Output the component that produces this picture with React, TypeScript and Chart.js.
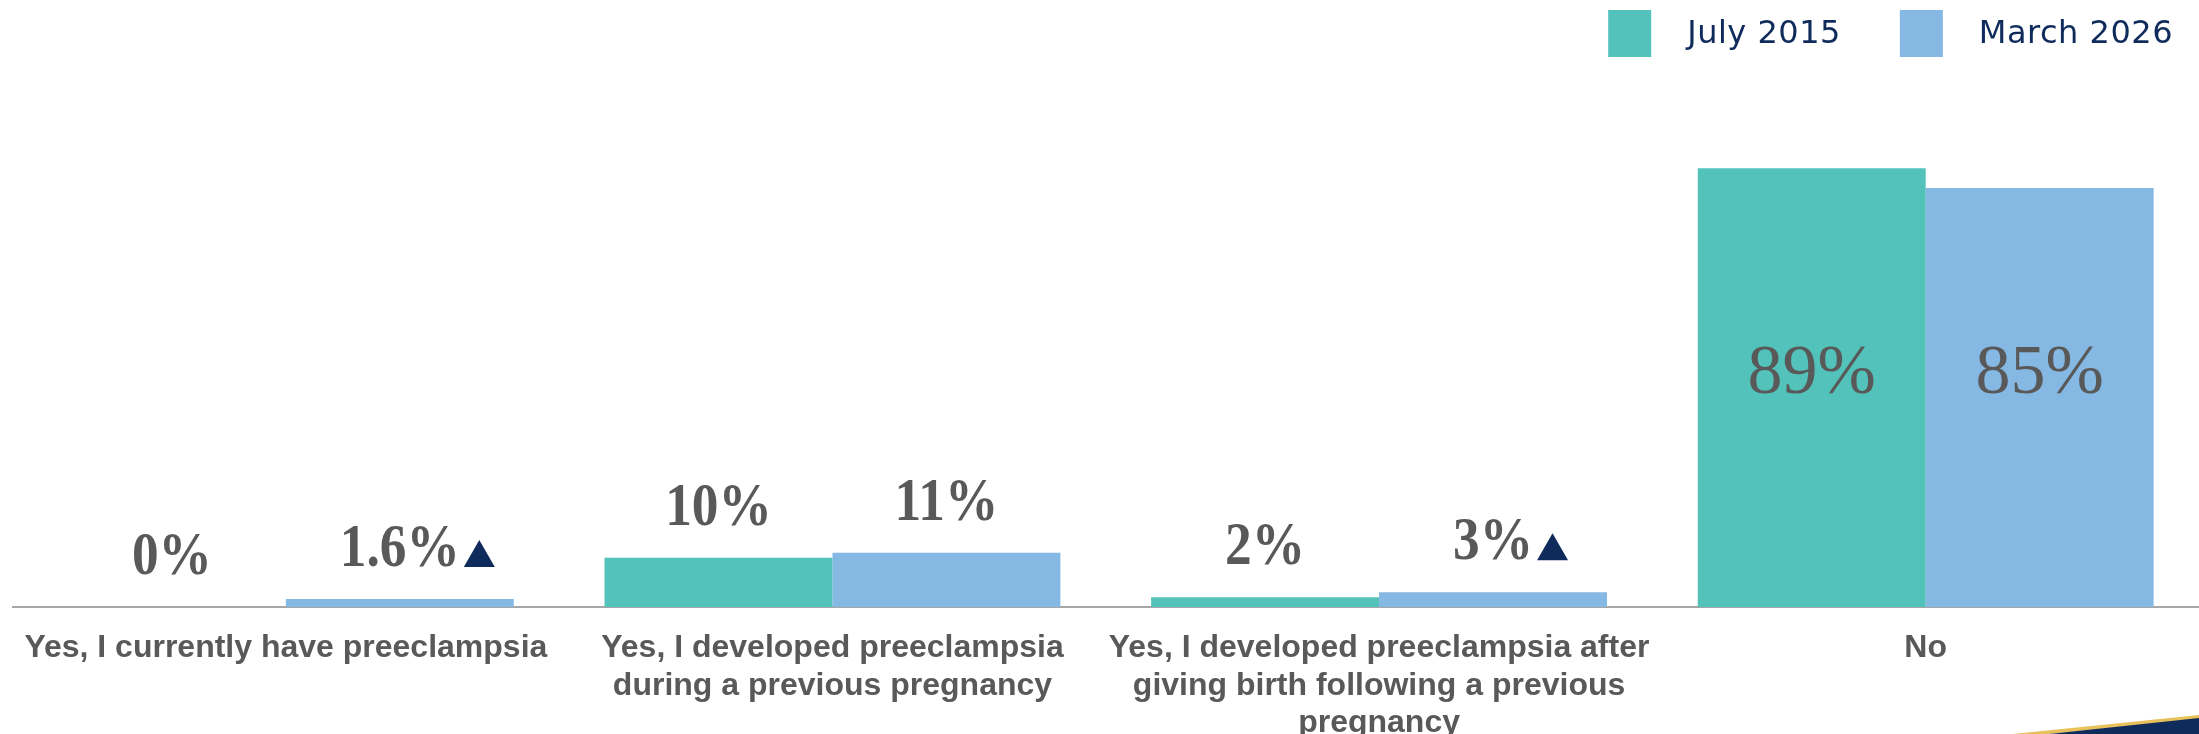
import React, { useEffect, useRef } from "react";
import { Chart, registerables } from "chart.js";

Chart.register(...registerables);

const categories: string[][] = [
  ["Yes, I currently have preeclampsia"],
  ["Yes, I developed preeclampsia", "during a previous pregnancy"],
  ["Yes, I developed preeclampsia after", "giving birth following a previous", "pregnancy"],
  ["No"],
];
const seriesNames = ["July 2015", "March 2026"];
const july2015 = [0, 10, 2, 89];
const march2026 = [1.6, 11, 3, 85];
const july2015Up = [false, false, false, false];
const march2026Up = [true, false, true, false];

const TEAL = "#52C2BA";
const BLUE = "#85B9E3";
const NAVY = "#0E2B5C";
const GREY = "#595959";

const fmt = (v: number) => (Number.isInteger(v) ? `${v}%` : `${v.toFixed(1)}%`);

const labelPlugin = {
  id: "valueLabels",
  afterDatasetsDraw(chart: any) {
    const ctx = chart.ctx;
    const area = chart.chartArea;
    const flags = [july2015Up, march2026Up];
    chart.data.datasets.forEach((ds: any, i: number) => {
      const meta = chart.getDatasetMeta(i);
      meta.data.forEach((bar: any, j: number) => {
        const v = ds.data[j] as number;
        const text = fmt(v);
        ctx.save();
        ctx.fillStyle = GREY;
        if (v >= 50) {
          ctx.font = "70px 'Liberation Serif', 'Times New Roman', serif";
          ctx.textAlign = "center";
          ctx.textBaseline = "middle";
          ctx.fillText(text, bar.x, (area.top + bar.base) / 2 + 14);
        } else {
          const sx = 0.86;
          ctx.font = "bold 62px 'Liberation Serif', 'Times New Roman', serif";
          ctx.textAlign = "center";
          ctx.textBaseline = "alphabetic";
          const baseY = bar.y - 33;
          const w = ctx.measureText(text).width * sx;
          ctx.save();
          ctx.translate(bar.x, baseY);
          ctx.scale(sx, 1);
          ctx.fillText(text, 0, 0);
          ctx.restore();
          if (flags[i][j]) {
            const tx = bar.x + w / 2 + 4;
            ctx.fillStyle = NAVY;
            ctx.beginPath();
            ctx.moveTo(tx, baseY + 1);
            ctx.lineTo(tx + 31, baseY + 1);
            ctx.lineTo(tx + 15.5, baseY - 26);
            ctx.closePath();
            ctx.fill();
          }
        }
        ctx.restore();
      });
    });
  },
};

const legendPlugin = {
  id: "customLegend",
  afterDraw(chart: any) {
    const ctx = chart.ctx;
    ctx.save();
    ctx.font = "500 32px 'DejaVu Sans', sans-serif";
    (ctx as any).letterSpacing = "0.5px";
    const box = 43;
    const boxH = 47;
    const gapText = 36;
    const gapItem = 59;
    const items = chart.data.datasets.map((ds: any) => ({
      label: ds.label as string,
      color: ds.backgroundColor as string,
      w: ctx.measureText(ds.label).width,
    }));
    const total = items.reduce((s: number, it: any) => s + box + gapText + it.w, 0) + gapItem * (items.length - 1);
    let x = chart.width - 26 - total;
    const top = 10;
    items.forEach((it: any) => {
      ctx.fillStyle = it.color;
      ctx.fillRect(x, top, box, boxH);
      x += box + gapText;
      ctx.fillStyle = NAVY;
      ctx.textAlign = "left";
      ctx.textBaseline = "middle";
      ctx.fillText(it.label, x, top + boxH / 2 + 1);
      x += it.w + gapItem;
    });
    ctx.restore();

    // slide corner decoration
    const W = chart.width;
    const H = chart.height;
    ctx.save();
    ctx.fillStyle = "#E8C15A";
    ctx.beginPath();
    ctx.moveTo(W - 186, H);
    ctx.lineTo(W, H - 19);
    ctx.lineTo(W, H - 15);
    ctx.lineTo(W - 150, H);
    ctx.closePath();
    ctx.fill();
    ctx.fillStyle = NAVY;
    ctx.beginPath();
    ctx.moveTo(W - 150, H);
    ctx.lineTo(W, H - 16);
    ctx.lineTo(W, H);
    ctx.closePath();
    ctx.fill();
    ctx.restore();
  },
};

export default function App() {
  const ref = useRef<HTMLCanvasElement | null>(null);
  useEffect(() => {
    if (!ref.current) return;
    const chart = new Chart(ref.current, {
      type: "bar",
      data: {
        labels: categories,
        datasets: [
          {
            label: seriesNames[0],
            data: july2015,
            backgroundColor: TEAL,
            categoryPercentage: 0.834,
            barPercentage: 1,
          },
          {
            label: seriesNames[1],
            data: march2026,
            backgroundColor: BLUE,
            categoryPercentage: 0.834,
            barPercentage: 1,
          },
        ],
      },
      options: {
        animation: false,
        responsive: false,
        layout: { padding: { top: 114, left: 11, right: -5, bottom: 0 } },
        plugins: { legend: { display: false }, tooltip: { enabled: false } },
        scales: {
          x: {
            grid: { display: false, drawTicks: false },
            border: { display: true, color: "#A6A6A6", width: 2 },
            ticks: {
              color: GREY,
              autoSkip: false,
              maxRotation: 0,
              minRotation: 0,
              padding: 23,
              font: { family: "'Liberation Sans', Arial, sans-serif", size: 32, weight: "bold", lineHeight: 1.16 },
            },
            afterFit: (s: any) => {
              s.height = 127;
            },
          },
          y: { display: false, min: 0, max: 100 },
        },
      },
      plugins: [labelPlugin, legendPlugin],
    } as any);
    return () => chart.destroy();
  }, []);
  return (
    <div style={{ position: "fixed", left: 0, top: 0, width: 2199, height: 734, background: "#fff" }}>
      <canvas ref={ref} width={2199} height={734} style={{ display: "block", width: 2199, height: 734 }} />
    </div>
  );
}
